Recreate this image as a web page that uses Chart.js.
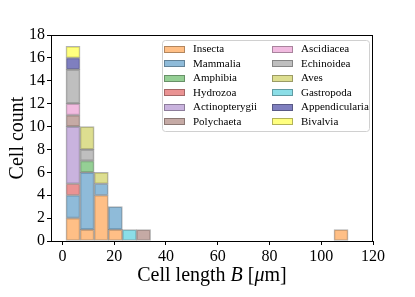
<!DOCTYPE html>
<html>
<head>
<meta charset="utf-8">
<script src="https://cdn.jsdelivr.net/npm/chart.js@4/dist/chart.umd.min.js"></script>
<style>
html,body{margin:0;padding:0;background:#fff;}
#wrap{position:relative;width:415px;height:297px;}
</style>
</head>
<body>
<div id="wrap"><canvas id="c" width="415" height="297"></canvas></div>
<script>
// Histogram bin centres (µm), 20 equal-width bins
const binCenters = [4.1, 9.55, 15.0, 20.45, 25.9, 31.35, 36.8, 42.25, 47.7, 53.15,
                    58.6, 64.05, 69.5, 74.95, 80.4, 85.85, 91.3, 96.75, 102.2, 107.65];
const xTicks = [0, 20, 40, 60, 80, 100, 120];
const yTicks = [0, 2, 4, 6, 8, 10, 12, 14, 16, 18];

const taxa = ["Insecta", "Mammalia", "Amphibia", "Hydrozoa", "Actinopterygii", "Polychaeta",
              "Ascidiacea", "Echinoidea", "Aves", "Gastropoda", "Appendicularia", "Bivalvia"];

const insecta        = [2,1,4,1,0,0,0,0,0,0,0,0,0,0,0,0,0,0,0,1];
const mammalia       = [2,5,1,2,0,0,0,0,0,0,0,0,0,0,0,0,0,0,0,0];
const amphibia       = [0,1,0,0,0,0,0,0,0,0,0,0,0,0,0,0,0,0,0,0];
const hydrozoa       = [1,0,0,0,0,0,0,0,0,0,0,0,0,0,0,0,0,0,0,0];
const actinopterygii = [5,0,0,0,0,0,0,0,0,0,0,0,0,0,0,0,0,0,0,0];
const polychaeta     = [1,0,0,0,0,1,0,0,0,0,0,0,0,0,0,0,0,0,0,0];
const ascidiacea     = [1,0,0,0,0,0,0,0,0,0,0,0,0,0,0,0,0,0,0,0];
const echinoidea     = [3,1,0,0,0,0,0,0,0,0,0,0,0,0,0,0,0,0,0,0];
const aves           = [0,2,1,0,0,0,0,0,0,0,0,0,0,0,0,0,0,0,0,0];
const gastropoda     = [0,0,0,0,1,0,0,0,0,0,0,0,0,0,0,0,0,0,0,0];
const appendicularia = [1,0,0,0,0,0,0,0,0,0,0,0,0,0,0,0,0,0,0,0];
const bivalvia       = [1,0,0,0,0,0,0,0,0,0,0,0,0,0,0,0,0,0,0,0];

const series = [insecta, mammalia, amphibia, hydrozoa, actinopterygii, polychaeta,
                ascidiacea, echinoidea, aves, gastropoda, appendicularia, bivalvia];

const colors = ["rgba(255,127,14,0.5)", "rgba(31,119,180,0.5)", "rgba(44,160,44,0.5)",
                "rgba(214,39,40,0.5)", "rgba(148,103,189,0.5)", "rgba(140,86,75,0.5)",
                "rgba(227,119,194,0.5)", "rgba(127,127,127,0.5)", "rgba(188,189,34,0.5)",
                "rgba(23,190,207,0.5)", "rgba(0,0,128,0.5)", "rgba(255,255,0,0.5)"];
const edge = "rgba(0,0,0,0.3)";
const serif = "'Liberation Serif', 'DejaVu Serif', serif";

const datasets = taxa.map((name, k) => ({
  label: name,
  data: binCenters.map((x, i) => ({x: x, y: series[k][i]})).filter(p => p.y > 0),
  backgroundColor: colors[k],
  borderColor: edge,
  borderWidth: 1,
  borderSkipped: false,
  barPercentage: 1.0,
  categoryPercentage: 1.0,
  stack: 's'
}));

const overlay = {
  id: 'overlay',
  afterDraw(chart) {
    const ctx = chart.ctx;
    const a = chart.chartArea;
    ctx.save();
    // frame
    ctx.strokeStyle = '#000';
    ctx.lineWidth = 1;
    ctx.strokeRect(Math.round(a.left) + 0.5, Math.round(a.top) + 0.5,
                   Math.round(a.right - a.left) - 1, Math.round(a.bottom - a.top));
    // y title
    ctx.fillStyle = '#000';
    ctx.font = "20px " + serif;
    ctx.textAlign = 'center';
    ctx.textBaseline = 'middle';
    ctx.translate(18, (a.top + a.bottom) / 2);
    ctx.rotate(-Math.PI / 2);
    ctx.fillText("Cell count", 0, 0);
    ctx.restore();

    // x title with italic segments
    ctx.save();
    ctx.fillStyle = '#000';
    ctx.textBaseline = 'alphabetic';
    ctx.textAlign = 'left';
    const segs = [["Cell length ", false], ["B", true], [" [", false], ["μ", true], ["m]", false]];
    let total = 0;
    segs.forEach(s => { ctx.font = (s[1] ? "italic " : "") + "20px " + serif; total += ctx.measureText(s[0]).width; });
    let x = (a.left + a.right) / 2 - total / 2;
    segs.forEach(s => {
      ctx.font = (s[1] ? "italic " : "") + "20px " + serif;
      ctx.fillText(s[0], x, 281);
      x += ctx.measureText(s[0]).width;
    });
    ctx.restore();

    // legend (two columns, six rows)
    ctx.save();
    const lx = 162, ly = 40, lw = 207, lh = 91, r = 3;
    ctx.fillStyle = 'rgba(255,255,255,0.8)';
    ctx.strokeStyle = '#d0d0d0';
    ctx.lineWidth = 1;
    ctx.beginPath();
    ctx.moveTo(lx + r + 0.5, ly + 0.5);
    ctx.arcTo(lx + lw + 0.5, ly + 0.5, lx + lw + 0.5, ly + lh + 0.5, r);
    ctx.arcTo(lx + lw + 0.5, ly + lh + 0.5, lx + 0.5, ly + lh + 0.5, r);
    ctx.arcTo(lx + 0.5, ly + lh + 0.5, lx + 0.5, ly + 0.5, r);
    ctx.arcTo(lx + 0.5, ly + 0.5, lx + lw + 0.5, ly + 0.5, r);
    ctx.closePath();
    ctx.fill();
    ctx.stroke();
    ctx.font = "11px " + serif;
    ctx.textBaseline = 'middle';
    ctx.textAlign = 'left';
    chart.data.datasets.forEach((ds, k) => {
      const col = Math.floor(k / 6), row = k % 6;
      const sx = col === 0 ? 164 : 272;
      const cy = 49 + row * 14.5;
      ctx.fillStyle = ds.backgroundColor;
      ctx.fillRect(sx, Math.round(cy - 3.5), 21, 7);
      ctx.strokeStyle = edge;
      ctx.strokeRect(sx + 0.5, Math.round(cy - 3.5) + 0.5, 20, 6);
      ctx.fillStyle = '#000';
      ctx.fillText(ds.label, sx + 29, cy + 0.5);
    });
    ctx.restore();
  }
};

new Chart(document.getElementById('c'), {
  type: 'bar',
  data: { datasets: datasets },
  plugins: [overlay],
  options: {
    responsive: false,
    animation: false,
    devicePixelRatio: 1,
    layout: { padding: { left: 0, right: 42, top: 35, bottom: 0 } },
    plugins: { legend: { display: false }, tooltip: { enabled: false } },
    scales: {
      x: {
        type: 'linear',
        min: -4.4,
        max: 120,
        offset: false,
        grid: { offset: false, drawOnChartArea: false, drawTicks: true, tickLength: 4, color: '#000', tickWidth: 1 },
        border: { display: true, color: '#000', width: 1 },
        afterBuildTicks: (s) => { s.ticks = xTicks.map(v => ({ value: v })); },
        afterFit: (s) => { s.height = 56; },
        ticks: { color: '#000', font: { family: serif, size: 16 }, padding: 2, maxRotation: 0, autoSkip: false }
      },
      y: {
        stacked: true,
        min: 0,
        max: 18,
        grid: { drawOnChartArea: false, drawTicks: true, tickLength: 4, color: '#000', tickWidth: 1 },
        border: { display: true, color: '#000', width: 1 },
        afterBuildTicks: (s) => { s.ticks = yTicks.map(v => ({ value: v })); },
        afterFit: (s) => { s.width = 51; },
        ticks: { color: '#000', font: { family: serif, size: 16 }, padding: 2, autoSkip: false }
      }
    }
  }
});
</script>
</body>
</html>
